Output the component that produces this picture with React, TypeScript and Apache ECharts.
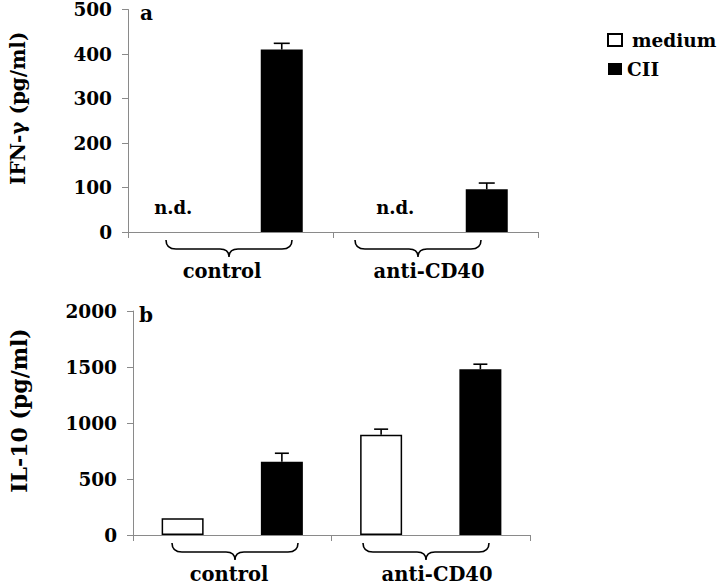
import React, { useEffect, useRef } from 'react';
import * as echarts from 'echarts';

const categories = ['control / medium', 'control / CII', 'anti-CD40 / medium', 'anti-CD40 / CII'];
const groupNames = ['control', 'anti-CD40'];
const seriesNames = ['medium', 'CII'];

// panel a: IFN-gamma (pg/ml)
const ifnMedium = [0, null, 0, null];
const ifnNotDetected = [true, false, true, false];
const ifnCII = [null, 410, null, 96];
const ifnCIIErr = [null, 14, null, 14];

// panel b: IL-10 (pg/ml)
const il10Medium = [150, null, 895, null];
const il10MediumErr = [null, null, 50, null];
const il10CII = [null, 655, null, 1480];
const il10CIIErr = [null, 75, null, 45];

const FONT = '"DejaVu Serif", serif';
const AXIS_GRAY = '#8a8a8a';

const braceD =
  'M0,0 C0,6 3,9 10,9 L54,9 C60,9 63,12 63,17 C63,12 66,9 72,9 L116,9 C123,9 126,6 126,0';
echarts.graphic.registerShape('brace', echarts.graphic.extendPath(braceD, {}));

function errData(vals: (number | null)[], errs: (number | null)[]) {
  const out: number[][] = [];
  vals.forEach((v, i) => {
    if (v != null && errs[i] != null) out.push([i, v, errs[i] as number]);
  });
  return out;
}

function errorSeries(name: string, data: number[][], idx: number, hw: number) {
  return {
    name: name + ' error',
    type: 'custom',
    xAxisIndex: idx,
    yAxisIndex: idx,
    data,
    encode: { x: 0, y: 1 },
    z: 5,
    silent: true,
    renderItem: (_p: any, api: any) => {
      const x = api.value(0);
      const v = api.value(1);
      const e = api.value(2);
      const base = api.coord([x, v]);
      const top = api.coord([x, v + e]);
      return {
        type: 'group',
        children: [
          { type: 'line', shape: { x1: base[0], y1: base[1], x2: top[0], y2: top[1] }, style: { stroke: '#000', lineWidth: 1.6 } },
          { type: 'line', shape: { x1: top[0] - hw, y1: top[1], x2: top[0] + hw, y2: top[1] }, style: { stroke: '#000', lineWidth: 1.6 } },
        ],
      };
    },
  };
}

const labelStyle = { fontFamily: FONT, fontWeight: 'bold', color: '#000' };

function xAxisFor(gridIndex: number) {
  return {
    type: 'category',
    gridIndex,
    data: categories,
    boundaryGap: true,
    axisLine: { show: true, lineStyle: { color: AXIS_GRAY, width: 1 } },
    axisTick: { show: true, length: 6, lineStyle: { color: AXIS_GRAY } },
    axisLabel: { show: false },
    splitLine: { show: false },
  };
}

function yAxisFor(gridIndex: number, max: number, interval: number, name: string, nameSize: number, nameGap: number) {
  return {
    type: 'value',
    gridIndex,
    min: 0,
    max,
    interval,
    name,
    nameLocation: 'middle',
    nameGap,
    nameTextStyle: { ...labelStyle, fontSize: nameSize, padding: [0, 0, 0, 25] },
    axisLine: { show: true, lineStyle: { color: AXIS_GRAY, width: 1 } },
    axisTick: { show: true, length: 6, lineStyle: { color: AXIS_GRAY } },
    axisLabel: { ...labelStyle, fontSize: 18.5, margin: 16, formatter: (v: number) => String(v) },
    splitLine: { show: false },
  };
}

export default function App() {
  const ref = useRef<HTMLDivElement>(null);
  useEffect(() => {
    if (!ref.current) return;
    const chart = echarts.init(ref.current, null, { renderer: 'svg' });
    const ndOffsets = [[-6, 0], [0, 0], [11, 0], [0, 0]];

    const braces = [
      { x: 166, y: 240 },
      { x: 355, y: 240 },
      { x: 172, y: 543 },
      { x: 363, y: 543 },
    ];
    const groupLabels = [
      { x: 222, y: 271, t: groupNames[0] },
      { x: 429, y: 271, t: groupNames[1] },
      { x: 229, y: 574, t: groupNames[0] },
      { x: 437, y: 574, t: groupNames[1] },
    ];

    chart.setOption({
      animation: false,
      backgroundColor: '#fff',
      grid: [
        { left: 124, top: 7, width: 414, height: 225 },
        { left: 127, top: 311, width: 403, height: 224 },
      ],
      legend: {
        orient: 'vertical',
        left: 602,
        top: 25,
        itemWidth: 14,
        itemHeight: 12,
        itemGap: 9,
        icon: 'rect',
        textStyle: { ...labelStyle, fontSize: 18.5, lineHeight: 20 },
        data: [
          { name: seriesNames[0], textStyle: { padding: [0, 0, 0, 5] } },
          { name: seriesNames[1], textStyle: { padding: [0, 0, 0, 0] } },
        ],
      },
      xAxis: [xAxisFor(0), xAxisFor(1)],
      yAxis: [
        yAxisFor(0, 500, 100, 'IFN-\u03b3 (pg/ml)', 20, 100),
        yAxisFor(1, 2000, 500, 'IL-10 (pg/ml)', 22, 103),
      ],
      series: [
        {
          name: seriesNames[0],
          type: 'bar',
          xAxisIndex: 0,
          yAxisIndex: 0,
          stack: 'a',
          barWidth: 42,
          itemStyle: { color: '#fff', borderColor: '#000', borderWidth: 1.5 },
          data: ifnMedium.map((v, i) =>
            ifnNotDetected[i]
              ? {
                  value: v,
                  itemStyle: { color: 'transparent', borderWidth: 0 },
                  label: {
                    show: true,
                    formatter: 'n.d.',
                    position: 'top',
                    distance: 16,
                    offset: ndOffsets[i],
                    ...labelStyle,
                    fontSize: 18,
                  },
                }
              : v == null ? '-' : v
          ),
        },
        {
          name: seriesNames[1],
          type: 'bar',
          xAxisIndex: 0,
          yAxisIndex: 0,
          stack: 'a',
          barWidth: 42,
          itemStyle: { color: '#000' },
          data: ifnCII.map((v) => (v == null ? '-' : v)),
        },
        errorSeries('CII', errData(ifnCII, ifnCIIErr), 0, 8),
        {
          name: seriesNames[0],
          type: 'bar',
          xAxisIndex: 1,
          yAxisIndex: 1,
          stack: 'b',
          barWidth: 42,
          itemStyle: { color: '#fff', borderColor: '#000', borderWidth: 1.5 },
          data: il10Medium.map((v) => (v == null ? '-' : v)),
        },
        {
          name: seriesNames[1],
          type: 'bar',
          xAxisIndex: 1,
          yAxisIndex: 1,
          stack: 'b',
          barWidth: 42,
          itemStyle: { color: '#000' },
          data: il10CII.map((v) => (v == null ? '-' : v)),
        },
        errorSeries('medium', errData(il10Medium, il10MediumErr), 1, 7),
        errorSeries('CII', errData(il10CII, il10CIIErr), 1, 7),
      ],
      graphic: [
        ...braces.map((b) => ({
          type: 'brace',
          x: b.x,
          y: b.y,
          style: { fill: 'none', stroke: '#000', lineWidth: 1.6 },
        })),
        ...groupLabels.map((g) => ({
          type: 'text',
          x: g.x,
          y: g.y,
          style: {
            text: g.t,
            fill: '#000',
            fontFamily: FONT,
            fontWeight: 'bold',
            fontSize: 19.5,
            align: 'center',
            verticalAlign: 'middle',
          },
        })),
        {
          type: 'text',
          x: 140,
          y: 13,
          style: { text: 'a', fill: '#000', fontFamily: FONT, fontWeight: 'bold', fontSize: 20, align: 'left', verticalAlign: 'middle' },
        },
        {
          type: 'text',
          x: 139,
          y: 315,
          style: { text: 'b', fill: '#000', fontFamily: FONT, fontWeight: 'bold', fontSize: 20, align: 'left', verticalAlign: 'middle' },
        },
      ],
    });
    return () => chart.dispose();
  }, []);
  return <div ref={ref} style={{ position: 'absolute', left: 0, top: 0, width: 720, height: 584 }} />;
}
